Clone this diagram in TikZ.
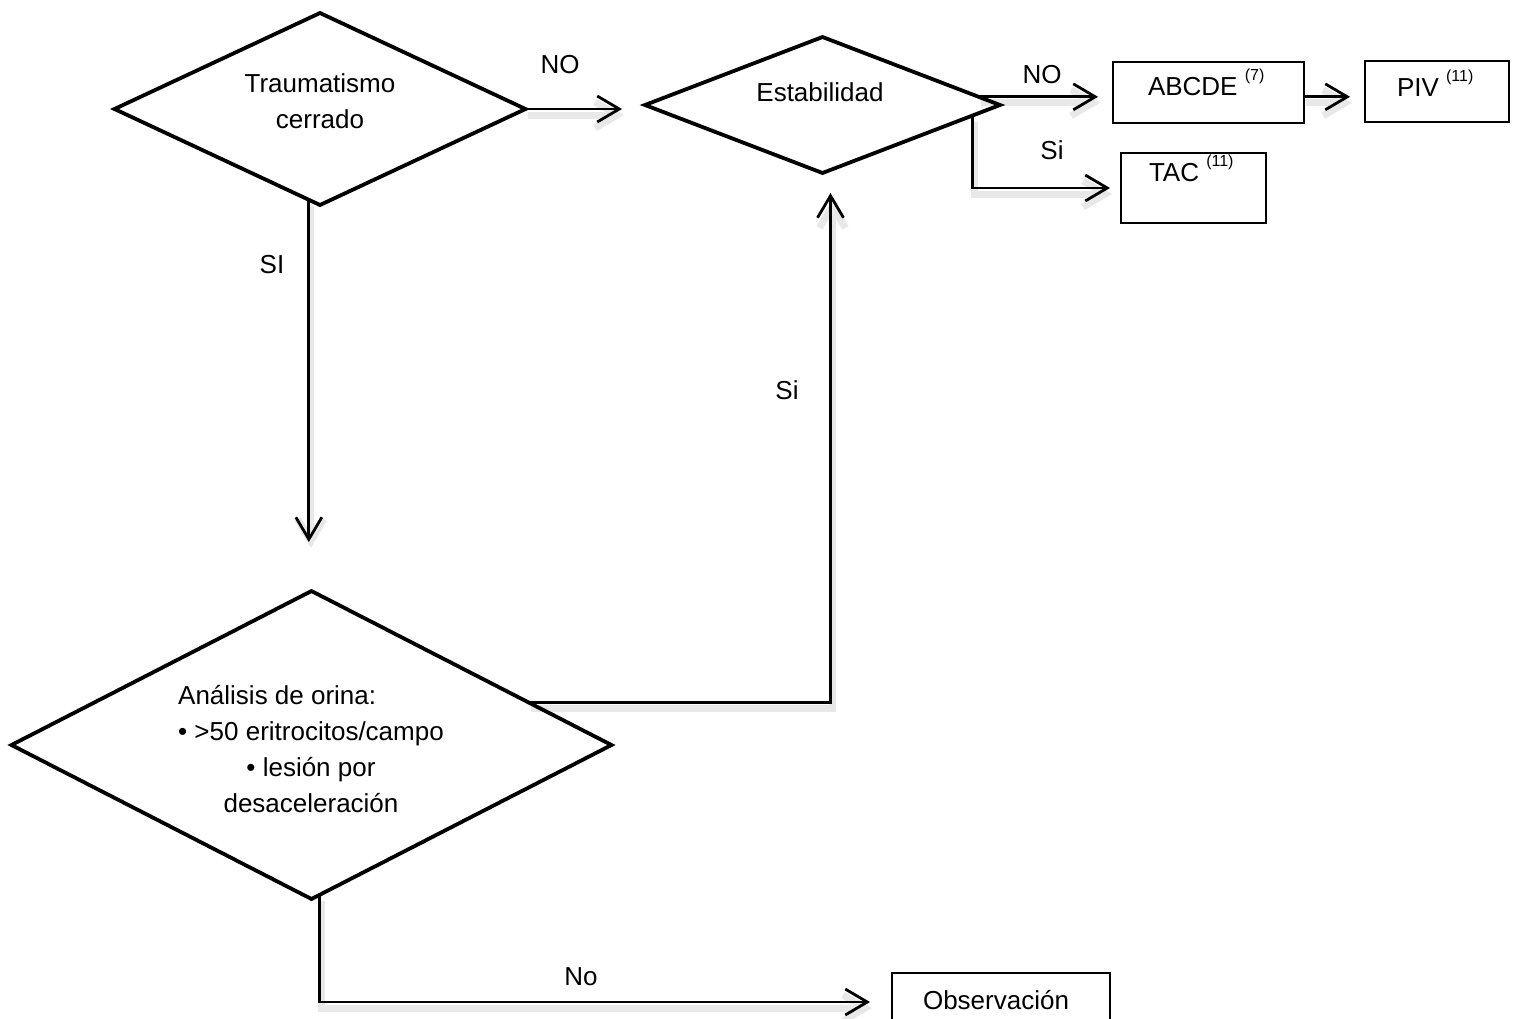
\documentclass[tikz,border=0pt]{standalone}
\usepackage{fontspec}
\setmainfont{Liberation Sans}
\usetikzlibrary{arrows.meta,shapes.geometric,calc,backgrounds}
\newcommand\supnum[1]{\raisebox{15pt}{\fontsize{16}{16}\selectfont #1}}
\begin{document}
\begin{tikzpicture}[x=1pt,y=-1pt,
  every node/.style={font=\fontsize{26}{36}\selectfont, inner sep=0pt, outer sep=0pt},
  dia/.style={draw, diamond, line width=3.8pt},
  box/.style={draw, rectangle, line width=2.6pt},
  shadowed/.style={preaction={draw=black!9, line width=7pt, transform canvas={shift={(2pt,-6pt)}}}},
  conn/.style={line width=2.8pt, -{Straight Barb[length=22pt,width=26pt]}},
]
\useasboundingbox (0,0) rectangle (1517,1018);

% decision diamonds
\node[dia, minimum width=411pt, minimum height=192pt] (d1) at (320,109) {};
\node[dia, minimum width=355pt, minimum height=136pt] (d2) at (822.5,105) {};
\node[dia, minimum width=600pt, minimum height=308pt] (d3) at (311.5,745) {};

% boxes
\node[box, minimum width=191pt, minimum height=61pt] (abcde) at (1208.5,92.5) {};
\node[box, minimum width=144pt, minimum height=61pt] (piv) at (1437,91.5) {};
\node[box, minimum width=145pt, minimum height=70pt] (tac) at (1193.5,188) {};
\node[box, minimum width=218pt, minimum height=70pt] (obs) at (1001,1008) {};

% texts
\node[align=center] (t1) at (320,101) {Traumatismo\\cerrado};
\node (t2) at (820,92) {Estabilidad};
\node[anchor=base west] (t3) at (1148,95) {ABCDE \supnum{(7)}};
\node[anchor=base west] (t4) at (1397,96) {PIV \supnum{(11)}};
\node[anchor=base west] (t5) at (1149,181) {TAC \supnum{(11)}};
\node[align=center] (t6) at (311,746) {\begin{tabular}[b]{@{}l@{}}Análisis de orina:\\• >50 eritrocitos/campo\end{tabular}\\• lesión por\\desaceleración};
\node (t7) at (996,1000) {Observación};

% labels
\node (l1) at (560,65) {NO};
\node (l2) at (1042,75) {NO};
\node (l3) at (1052,150) {Si};
\node (l4) at (272,265) {SI};
\node (l5) at (787,390) {Si};
\node (l6) at (581,977) {No};

% connectors
\begin{pgfonlayer}{background}
\draw[conn, shadowed, shorten >=23pt] (d1.east) -- (d1.east -| d2.west);
\draw[conn, shadowed, shorten >=15pt] (d2.3) -- (d2.3 -| abcde.west);
\draw[conn, shadowed, shorten >=15pt] (abcde.east |- d2.3) -- (piv.west |- d2.3);
\draw[conn, shadowed, shorten >=11pt] (d2.-4) |- (tac.west);
\draw[conn, shadowed, shorten >=49pt] (d1.-97) -- (d1.-97 |- d3.north);
\draw[conn, shadowed, shorten >=20pt] (d3.11.5) -| ([xshift=8pt]d2.south);
\draw[conn, shadowed, shorten >=22pt] (d3.-87) |- ([yshift=6pt]obs.west);
\end{pgfonlayer}
\end{tikzpicture}
\end{document}
